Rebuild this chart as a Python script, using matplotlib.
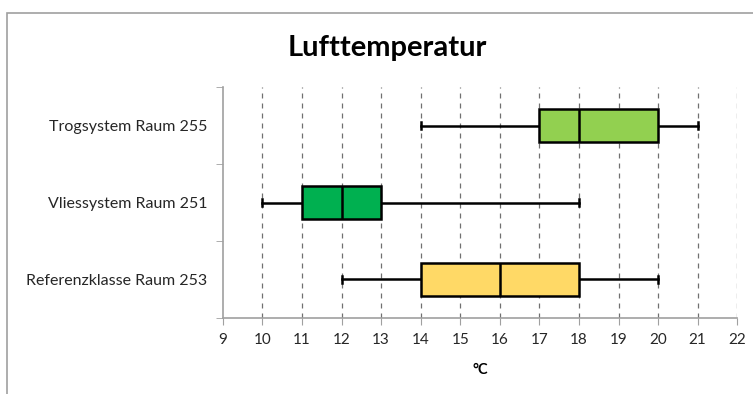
import matplotlib.pyplot as plt
from matplotlib.patches import Rectangle

# Box plot data (°C)
rooms = ['Referenzklasse Raum 253', 'Vliessystem Raum 251', 'Trogsystem Raum 255']
mins = [12, 10, 14]
q1 = [14, 11, 17]
medians = [16, 12, 18]
q3 = [18, 13, 20]
maxs = [20, 18, 21]
colors = ['#FFD966', '#00B050', '#92D050']

plt.rcParams['font.family'] = ['Lato', 'DejaVu Sans']

fig = plt.figure(figsize=(7.53, 3.94), dpi=100)
ax = fig.add_axes([0.296, 0.193, 0.683, 0.586])

# outer chart frame
fig.patches.append(Rectangle((7 / 753, -0.1), 1.1, 1 - 13 / 394 + 0.1,
                             transform=fig.transFigure, fill=False,
                             edgecolor='#A0A0A0', linewidth=1.2))

stats = []
for i in range(len(rooms)):
    stats.append({'whislo': mins[i], 'q1': q1[i], 'med': medians[i],
                  'q3': q3[i], 'whishi': maxs[i], 'label': rooms[i]})

pos = list(range(len(rooms)))
bp = ax.bxp(stats, positions=pos, vert=False, widths=0.42, patch_artist=True,
            showfliers=False, capwidths=0.1,
            boxprops=dict(linewidth=1.8, edgecolor='black'),
            whiskerprops=dict(linewidth=1.8, color='black'),
            capprops=dict(linewidth=1.8, color='black'),
            medianprops=dict(linewidth=1.8, color='black'))
for patch, c in zip(bp['boxes'], colors):
    patch.set_facecolor(c)
for w in bp['whiskers']:
    w.set_zorder(1)

ax.set_xlim(9, 22)
ax.set_ylim(-0.5, 2.5)
ax.set_xticks(range(9, 23))
ax.set_yticks(pos)
ax.set_yticklabels(rooms, fontsize=11.5, color='#262626')
ax.set_yticks([-0.5, 0.5, 1.5, 2.5], minor=True)
ax.tick_params(axis='y', which='major', length=0, pad=11)
ax.tick_params(axis='y', which='minor', length=5, color='#A0A0A0')
ax.tick_params(axis='x', length=5, color='#A0A0A0', labelsize=11,
               labelcolor='#262626', pad=6)

for x in range(10, 23):
    ax.axvline(x, color='#707070', linestyle=(0, (4, 4)), linewidth=0.9, zorder=0)

for s in ['top', 'right']:
    ax.spines[s].set_visible(False)
for s in ['left', 'bottom']:
    ax.spines[s].set_color('#A0A0A0')
    ax.spines[s].set_linewidth(1.2)

ax.set_xlabel('°C', fontsize=10.5, fontweight='bold', labelpad=11)
fig.text(0.514, 0.878, 'Lufttemperatur', ha='center', va='center',
         fontsize=21, fontweight='bold')

fig.savefig('out.png', dpi=100)
